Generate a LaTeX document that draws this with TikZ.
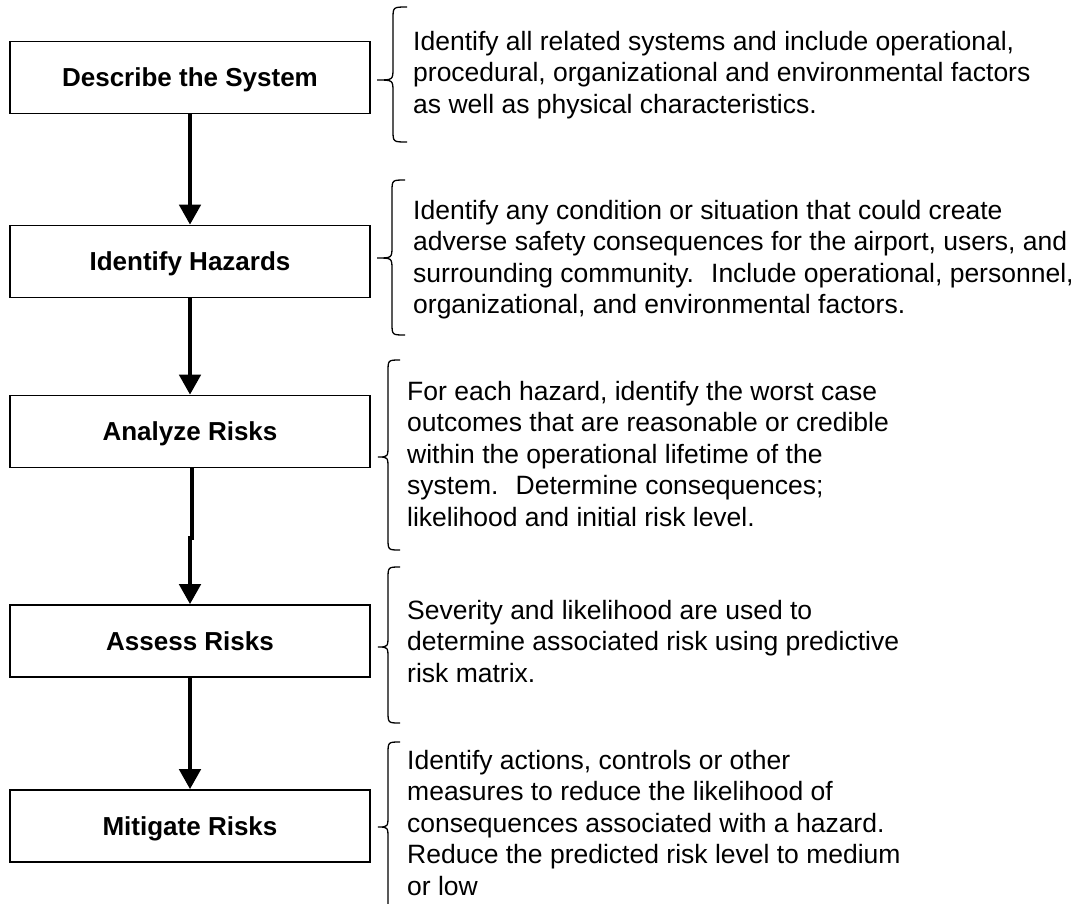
\documentclass[tikz,border=0pt]{standalone}
\usepackage{fontspec}
\setmainfont{Liberation Sans}
\usetikzlibrary{arrows.meta}
\newcommand\mybrace[6]{% top, tip y, bottom, vertical x, end x, tip x
  \draw[bracestyle] (#5,#1) .. controls (#4,#1) .. (#4,#1+12)
    -- (#4,#2-12) .. controls (#4,#2) .. (#6,#2)
    .. controls (#4,#2) .. (#4,#2+12)
    -- (#4,#3-12) .. controls (#4,#3) .. (#5,#3);}
\begin{document}
\begin{tikzpicture}[x=1pt,y=-1pt,
  stepbox/.style={draw, line width=1.6pt, minimum width=360pt, minimum height=72pt,
    inner sep=0pt, font=\fontsize{26}{30}\selectfont\bfseries, text height=18.6pt, text depth=0pt},
  conn/.style={line width=4.5pt, -{Triangle[width=21pt,length=20pt]}},
  desc/.style={anchor=base west, align=left, inner sep=0pt, font=\fontsize{26.5}{31.5}\selectfont},
  bracestyle/.style={line width=1.3pt}]
\useasboundingbox (0,0) rectangle (1079,903);

\node[stepbox] (b1) at (190,77.5) {Describe the System};
\node[stepbox] (b2) at (190,261.5) {Identify Hazards};
\node[stepbox] (b3) at (190,431.5) {Analyze Risks};
\node[stepbox] (b4) at (190,641) {Assess Risks};
\node[stepbox] (b5) at (190,826) {Mitigate Risks};

\draw[conn] (b1.south) -- (b2.north);
\draw[conn] (b2.south) -- (b3.north);
\coordinate (j) at (190,538);
\draw[conn] ([xshift=2pt]b3.south) -- ([xshift=2pt]j) -- (j) -- (b4.north);
\draw[conn] (b4.south) -- (b5.north);

\mybrace{7}{80}{142}{393}{407}{377}
\mybrace{180}{258}{335}{392}{405}{377}
\mybrace{360}{457}{550}{388}{400}{378}
\mybrace{567}{647}{723}{388}{400}{378}
\mybrace{742}{827}{915}{388}{400}{378}

% anchor base west = baseline of the last line
\node[desc] (d1) at (413,113) {Identify all related systems and include operational,\\procedural, organizational and environmental factors\\as well as physical characteristics.};
\node[desc] (d2) at (413,313.5) {Identify any condition or situation that could create\\adverse safety consequences for the airport, users, and\\surrounding community.~ Include operational, personnel,\\organizational, and environmental factors.};
\node[desc] (d3) at (407,526) {For each hazard, identify the worst case\\outcomes that are reasonable or credible\\within the operational lifetime of the\\system.~ Determine consequences;\\likelihood and initial risk level.};
\node[desc] (d4) at (407,682) {Severity and likelihood are used to\\determine associated risk using predictive\\risk matrix.};
\node[desc] (d5) at (407,895) {Identify actions, controls or other\\measures to reduce the likelihood of\\consequences associated with a hazard.\\Reduce the predicted risk level to medium\\or low};
\end{tikzpicture}
\end{document}
